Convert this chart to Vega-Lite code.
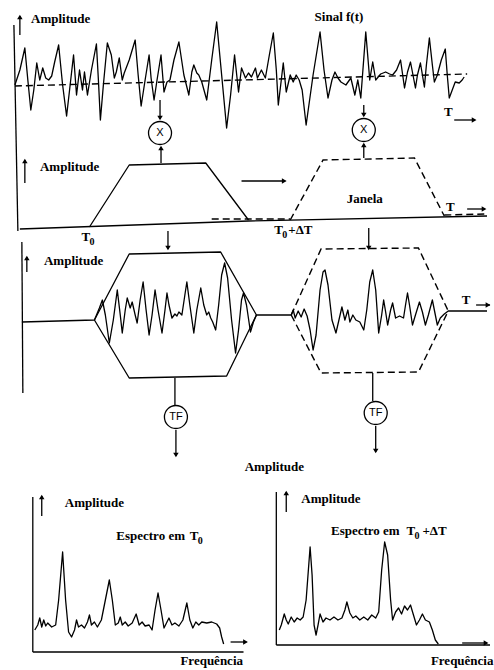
{
 "$schema": "https://vega.github.io/schema/vega-lite/v6.json",
 "width": 494, "height": 670,
 "autosize": {"type": "fit", "contains": "padding"},
 "padding": 0,
 "background": "white",
 "view": {"stroke": null},
 "datasets": {
  "solidas": [
   {"c":"sinal","x":15,"y":85},{"c":"sinal","x":20,"y":70},{"c":"sinal","x":25,"y":48},{"c":"sinal","x":28,"y":80},{"c":"sinal","x":31,"y":110},{"c":"sinal","x":34,"y":90},{"c":"sinal","x":37,"y":63},{"c":"sinal","x":40,"y":80},{"c":"sinal","x":43,"y":68},{"c":"sinal","x":46,"y":78},{"c":"sinal","x":49,"y":80},{"c":"sinal","x":52,"y":76},{"c":"sinal","x":55,"y":62},{"c":"sinal","x":59,"y":45},{"c":"sinal","x":63,"y":85},{"c":"sinal","x":67,"y":116},{"c":"sinal","x":70,"y":90},{"c":"sinal","x":74,"y":55},{"c":"sinal","x":77,"y":95},{"c":"sinal","x":80,"y":70},{"c":"sinal","x":83,"y":90},{"c":"sinal","x":85,"y":72},{"c":"sinal","x":88,"y":95},{"c":"sinal","x":92,"y":70},{"c":"sinal","x":97,"y":44},{"c":"sinal","x":99,"y":80},{"c":"sinal","x":101,"y":120},{"c":"sinal","x":104,"y":85},{"c":"sinal","x":108,"y":43},{"c":"sinal","x":112,"y":55},{"c":"sinal","x":115,"y":78},{"c":"sinal","x":117,"y":72},{"c":"sinal","x":120,"y":58},{"c":"sinal","x":123,"y":80},{"c":"sinal","x":125,"y":73},{"c":"sinal","x":130,"y":60},{"c":"sinal","x":136,"y":40},{"c":"sinal","x":139,"y":75},{"c":"sinal","x":142,"y":106},{"c":"sinal","x":146,"y":80},{"c":"sinal","x":150,"y":55},{"c":"sinal","x":152,"y":78},{"c":"sinal","x":155,"y":100},{"c":"sinal","x":158,"y":80},{"c":"sinal","x":162,"y":55},{"c":"sinal","x":165,"y":92},{"c":"sinal","x":168,"y":82},{"c":"sinal","x":171,"y":80},{"c":"sinal","x":175,"y":60},{"c":"sinal","x":180,"y":42},{"c":"sinal","x":185,"y":75},{"c":"sinal","x":190,"y":95},{"c":"sinal","x":193,"y":72},{"c":"sinal","x":195,"y":65},{"c":"sinal","x":198,"y":73},{"c":"sinal","x":200,"y":75},{"c":"sinal","x":203,"y":82},{"c":"sinal","x":208,"y":100},{"c":"sinal","x":213,"y":60},{"c":"sinal","x":218,"y":22},{"c":"sinal","x":223,"y":75},{"c":"sinal","x":228,"y":128},{"c":"sinal","x":232,"y":95},{"c":"sinal","x":236,"y":55},{"c":"sinal","x":240,"y":92},{"c":"sinal","x":243,"y":68},{"c":"sinal","x":247,"y":78},{"c":"sinal","x":250,"y":73},{"c":"sinal","x":253,"y":77},{"c":"sinal","x":257,"y":68},{"c":"sinal","x":259,"y":78},{"c":"sinal","x":263,"y":70},{"c":"sinal","x":267,"y":78},{"c":"sinal","x":271,"y":55},{"c":"sinal","x":275,"y":33},{"c":"sinal","x":278,"y":70},{"c":"sinal","x":280,"y":105},{"c":"sinal","x":283,"y":80},{"c":"sinal","x":285,"y":63},{"c":"sinal","x":288,"y":92},{"c":"sinal","x":292,"y":75},{"c":"sinal","x":295,"y":82},{"c":"sinal","x":298,"y":75},{"c":"sinal","x":301,"y":80},{"c":"sinal","x":304,"y":90},{"c":"sinal","x":308,"y":125},{"c":"sinal","x":315,"y":75},{"c":"sinal","x":322,"y":32},{"c":"sinal","x":326,"y":70},{"c":"sinal","x":330,"y":98},{"c":"sinal","x":334,"y":80},{"c":"sinal","x":337,"y":72},{"c":"sinal","x":340,"y":78},{"c":"sinal","x":343,"y":82},{"c":"sinal","x":348,"y":85},{"c":"sinal","x":353,"y":78},{"c":"sinal","x":357,"y":95},{"c":"sinal","x":360,"y":80},{"c":"sinal","x":363,"y":98},{"c":"sinal","x":368,"y":32},{"c":"sinal","x":372,"y":80},{"c":"sinal","x":375,"y":62},{"c":"sinal","x":378,"y":80},{"c":"sinal","x":383,"y":74},{"c":"sinal","x":388,"y":72},{"c":"sinal","x":392,"y":74},{"c":"sinal","x":395,"y":75},{"c":"sinal","x":399,"y":70},{"c":"sinal","x":403,"y":60},{"c":"sinal","x":407,"y":88},{"c":"sinal","x":410,"y":72},{"c":"sinal","x":413,"y":62},{"c":"sinal","x":418,"y":88},{"c":"sinal","x":420,"y":75},{"c":"sinal","x":423,"y":63},{"c":"sinal","x":427,"y":87},{"c":"sinal","x":429,"y":65},{"c":"sinal","x":432,"y":38},{"c":"sinal","x":435,"y":65},{"c":"sinal","x":437,"y":82},{"c":"sinal","x":440,"y":75},{"c":"sinal","x":444,"y":60},{"c":"sinal","x":448,"y":49},{"c":"sinal","x":450,"y":75},{"c":"sinal","x":452,"y":98},{"c":"sinal","x":455,"y":90},{"c":"sinal","x":458,"y":82},{"c":"sinal","x":462,"y":83},{"c":"sinal","x":465,"y":80},{"c":"sinal","x":467,"y":77},
   {"c":"janela1","x":90,"y":227},{"c":"janela1","x":130,"y":165},{"c":"janela1","x":207,"y":163},{"c":"janela1","x":250,"y":220},
   {"c":"janela_base","x":20,"y":229},{"c":"janela_base","x":250,"y":221},{"c":"janela_base","x":490,"y":216},
   {"c":"hex1_sup","x":95,"y":320},{"c":"hex1_sup","x":130,"y":254},{"c":"hex1_sup","x":222,"y":252},{"c":"hex1_sup","x":258,"y":315},
   {"c":"hex1_inf","x":95,"y":320},{"c":"hex1_inf","x":130,"y":378},{"c":"hex1_inf","x":228,"y":376},{"c":"hex1_inf","x":258,"y":315},
   {"c":"produto","x":22,"y":322},{"c":"produto","x":95,"y":320},{"c":"produto","x":100,"y":308},{"c":"produto","x":103,"y":300},{"c":"produto","x":106,"y":315},{"c":"produto","x":110,"y":343},{"c":"produto","x":114,"y":320},{"c":"produto","x":118,"y":290},{"c":"produto","x":121,"y":315},{"c":"produto","x":123,"y":333},{"c":"produto","x":126,"y":310},{"c":"produto","x":128,"y":298},{"c":"produto","x":131,"y":308},{"c":"produto","x":133,"y":302},{"c":"produto","x":136,"y":315},{"c":"produto","x":138,"y":323},{"c":"produto","x":141,"y":300},{"c":"produto","x":144,"y":282},{"c":"produto","x":147,"y":310},{"c":"produto","x":150,"y":335},{"c":"produto","x":153,"y":315},{"c":"produto","x":156,"y":290},{"c":"produto","x":159,"y":310},{"c":"produto","x":163,"y":333},{"c":"produto","x":166,"y":310},{"c":"produto","x":168,"y":293},{"c":"produto","x":170,"y":305},{"c":"produto","x":173,"y":318},{"c":"produto","x":176,"y":314},{"c":"produto","x":178,"y":316},{"c":"produto","x":180,"y":312},{"c":"produto","x":183,"y":315},{"c":"produto","x":186,"y":295},{"c":"produto","x":188,"y":282},{"c":"produto","x":191,"y":305},{"c":"produto","x":195,"y":333},{"c":"produto","x":198,"y":310},{"c":"produto","x":202,"y":288},{"c":"produto","x":205,"y":305},{"c":"produto","x":208,"y":315},{"c":"produto","x":210,"y":312},{"c":"produto","x":212,"y":318},{"c":"produto","x":214,"y":322},{"c":"produto","x":217,"y":330},{"c":"produto","x":220,"y":305},{"c":"produto","x":223,"y":275},{"c":"produto","x":226,"y":263},{"c":"produto","x":229,"y":278},{"c":"produto","x":233,"y":320},{"c":"produto","x":237,"y":353},{"c":"produto","x":240,"y":330},{"c":"produto","x":243,"y":300},{"c":"produto","x":245,"y":293},{"c":"produto","x":248,"y":305},{"c":"produto","x":252,"y":332},{"c":"produto","x":255,"y":322},{"c":"produto","x":258,"y":315},{"c":"produto","x":293,"y":315},{"c":"produto","x":295,"y":310},{"c":"produto","x":297,"y":318},{"c":"produto","x":300,"y":311},{"c":"produto","x":303,"y":317},{"c":"produto","x":306,"y":309},{"c":"produto","x":309,"y":316},{"c":"produto","x":312,"y":330},{"c":"produto","x":315,"y":350},{"c":"produto","x":318,"y":335},{"c":"produto","x":322,"y":290},{"c":"produto","x":325,"y":272},{"c":"produto","x":327,"y":270},{"c":"produto","x":330,"y":285},{"c":"produto","x":334,"y":320},{"c":"produto","x":338,"y":333},{"c":"produto","x":341,"y":320},{"c":"produto","x":344,"y":307},{"c":"produto","x":347,"y":320},{"c":"produto","x":350,"y":310},{"c":"produto","x":352,"y":322},{"c":"produto","x":355,"y":315},{"c":"produto","x":358,"y":320},{"c":"produto","x":362,"y":322},{"c":"produto","x":366,"y":330},{"c":"produto","x":369,"y":310},{"c":"produto","x":372,"y":282},{"c":"produto","x":375,"y":270},{"c":"produto","x":378,"y":290},{"c":"produto","x":381,"y":333},{"c":"produto","x":384,"y":315},{"c":"produto","x":386,"y":300},{"c":"produto","x":388,"y":312},{"c":"produto","x":390,"y":325},{"c":"produto","x":393,"y":310},{"c":"produto","x":395,"y":303},{"c":"produto","x":398,"y":318},{"c":"produto","x":402,"y":316},{"c":"produto","x":406,"y":318},{"c":"produto","x":408,"y":305},{"c":"produto","x":410,"y":293},{"c":"produto","x":412,"y":305},{"c":"produto","x":415,"y":325},{"c":"produto","x":418,"y":315},{"c":"produto","x":422,"y":302},{"c":"produto","x":425,"y":312},{"c":"produto","x":428,"y":325},{"c":"produto","x":431,"y":315},{"c":"produto","x":435,"y":300},{"c":"produto","x":438,"y":315},{"c":"produto","x":440,"y":325},{"c":"produto","x":443,"y":318},{"c":"produto","x":447,"y":314},{"c":"produto","x":451,"y":311},{"c":"produto","x":490,"y":311},
   {"c":"esp1","x":35,"y":630},{"c":"esp1","x":38,"y":625},{"c":"esp1","x":40,"y":618},{"c":"esp1","x":42,"y":627},{"c":"esp1","x":44,"y":620},{"c":"esp1","x":46,"y":626},{"c":"esp1","x":48,"y":623},{"c":"esp1","x":52,"y":627},{"c":"esp1","x":56,"y":625},{"c":"esp1","x":59,"y":600},{"c":"esp1","x":63,"y":552},{"c":"esp1","x":66,"y":600},{"c":"esp1","x":69,"y":632},{"c":"esp1","x":72,"y":637},{"c":"esp1","x":75,"y":630},{"c":"esp1","x":77,"y":620},{"c":"esp1","x":79,"y":627},{"c":"esp1","x":82,"y":625},{"c":"esp1","x":85,"y":628},{"c":"esp1","x":88,"y":622},{"c":"esp1","x":90,"y":615},{"c":"esp1","x":92,"y":625},{"c":"esp1","x":95,"y":622},{"c":"esp1","x":98,"y":627},{"c":"esp1","x":102,"y":620},{"c":"esp1","x":106,"y":600},{"c":"esp1","x":110,"y":580},{"c":"esp1","x":113,"y":600},{"c":"esp1","x":116,"y":625},{"c":"esp1","x":119,"y":623},{"c":"esp1","x":121,"y":617},{"c":"esp1","x":123,"y":625},{"c":"esp1","x":126,"y":622},{"c":"esp1","x":129,"y":626},{"c":"esp1","x":133,"y":623},{"c":"esp1","x":137,"y":614},{"c":"esp1","x":140,"y":625},{"c":"esp1","x":143,"y":622},{"c":"esp1","x":146,"y":626},{"c":"esp1","x":150,"y":625},{"c":"esp1","x":153,"y":630},{"c":"esp1","x":156,"y":610},{"c":"esp1","x":159,"y":593},{"c":"esp1","x":162,"y":610},{"c":"esp1","x":165,"y":628},{"c":"esp1","x":168,"y":622},{"c":"esp1","x":170,"y":618},{"c":"esp1","x":173,"y":625},{"c":"esp1","x":176,"y":623},{"c":"esp1","x":180,"y":626},{"c":"esp1","x":184,"y":620},{"c":"esp1","x":188,"y":603},{"c":"esp1","x":191,"y":620},{"c":"esp1","x":194,"y":628},{"c":"esp1","x":197,"y":622},{"c":"esp1","x":200,"y":625},{"c":"esp1","x":203,"y":622},{"c":"esp1","x":208,"y":623},{"c":"esp1","x":213,"y":622},{"c":"esp1","x":218,"y":624},{"c":"esp1","x":221,"y":628},{"c":"esp1","x":223,"y":637},{"c":"esp1","x":225,"y":644},
   {"c":"esp2","x":281,"y":630},{"c":"esp2","x":283,"y":625},{"c":"esp2","x":286,"y":614},{"c":"esp2","x":288,"y":620},{"c":"esp2","x":290,"y":624},{"c":"esp2","x":293,"y":617},{"c":"esp2","x":296,"y":622},{"c":"esp2","x":299,"y":618},{"c":"esp2","x":302,"y":620},{"c":"esp2","x":305,"y":617},{"c":"esp2","x":308,"y":600},{"c":"esp2","x":312,"y":547},{"c":"esp2","x":314,"y":575},{"c":"esp2","x":316,"y":625},{"c":"esp2","x":318,"y":635},{"c":"esp2","x":320,"y":625},{"c":"esp2","x":322,"y":614},{"c":"esp2","x":325,"y":622},{"c":"esp2","x":328,"y":618},{"c":"esp2","x":332,"y":620},{"c":"esp2","x":336,"y":617},{"c":"esp2","x":340,"y":620},{"c":"esp2","x":344,"y":618},{"c":"esp2","x":347,"y":610},{"c":"esp2","x":349,"y":602},{"c":"esp2","x":352,"y":613},{"c":"esp2","x":355,"y":618},{"c":"esp2","x":358,"y":616},{"c":"esp2","x":362,"y":620},{"c":"esp2","x":366,"y":617},{"c":"esp2","x":370,"y":620},{"c":"esp2","x":374,"y":615},{"c":"esp2","x":378,"y":618},{"c":"esp2","x":381,"y":612},{"c":"esp2","x":384,"y":570},{"c":"esp2","x":387,"y":542},{"c":"esp2","x":390,"y":555},{"c":"esp2","x":393,"y":600},{"c":"esp2","x":395,"y":620},{"c":"esp2","x":398,"y":612},{"c":"esp2","x":401,"y":608},{"c":"esp2","x":404,"y":614},{"c":"esp2","x":407,"y":606},{"c":"esp2","x":410,"y":610},{"c":"esp2","x":413,"y":605},{"c":"esp2","x":416,"y":615},{"c":"esp2","x":419,"y":625},{"c":"esp2","x":422,"y":620},{"c":"esp2","x":425,"y":614},{"c":"esp2","x":428,"y":620},{"c":"esp2","x":432,"y":622},{"c":"esp2","x":435,"y":630},{"c":"esp2","x":438,"y":640},{"c":"esp2","x":441,"y":644}
  ],
  "tracejadas": [
   {"c":"base_sinal","x":15,"y":86},{"c":"base_sinal","x":470,"y":74},
   {"c":"janela2","x":292,"y":220},{"c":"janela2","x":325,"y":160},{"c":"janela2","x":417,"y":158},{"c":"janela2","x":447,"y":216},
   {"c":"rastro1","x":213,"y":219},{"c":"rastro1","x":292,"y":219},
   {"c":"rastro2","x":447,"y":215},{"c":"rastro2","x":488,"y":214},
   {"c":"hex2_sup","x":293,"y":315},{"c":"hex2_sup","x":323,"y":249},{"c":"hex2_sup","x":421,"y":248},{"c":"hex2_sup","x":451,"y":311},
   {"c":"hex2_inf","x":293,"y":315},{"c":"hex2_inf","x":323,"y":373},{"c":"hex2_inf","x":421,"y":372},{"c":"hex2_inf","x":451,"y":311}
  ],
  "segmentos": [
   {"x":14,"y":25,"x2":18,"y2":231},
   {"x":20,"y":35,"x2":20,"y2":16},
   {"x":161,"y":100,"x2":161,"y2":119},
   {"x":366,"y":105,"x2":366,"y2":116},
   {"x":457,"y":120,"x2":478,"y2":120},
   {"x":162,"y":163,"x2":162,"y2":147},
   {"x":366,"y":158,"x2":366,"y2":144},
   {"x":25,"y":183,"x2":25,"y2":160},
   {"x":243,"y":181,"x2":287,"y2":181},
   {"x":470,"y":209,"x2":488,"y2":209},
   {"x":169,"y":231,"x2":169,"y2":249},
   {"x":371,"y":228,"x2":371,"y2":249},
   {"x":22,"y":242,"x2":23,"y2":393},
   {"x":27,"y":272,"x2":27,"y2":257},
   {"x":479,"y":305,"x2":493,"y2":305},
   {"x":176,"y":378,"x2":176,"y2":405},
   {"x":375,"y":373,"x2":375,"y2":401},
   {"x":177,"y":430,"x2":177,"y2":456},
   {"x":378,"y":426,"x2":378,"y2":452},
   {"x":33,"y":497,"x2":33,"y2":652},
   {"x":33,"y":652,"x2":245,"y2":652},
   {"x":42,"y":516,"x2":42,"y2":496},
   {"x":232,"y":642,"x2":248,"y2":642},
   {"x":278,"y":492,"x2":278,"y2":645},
   {"x":278,"y":645,"x2":493,"y2":645},
   {"x":288,"y":512,"x2":288,"y2":492},
   {"x":465,"y":643,"x2":490,"y2":643}
  ],
  "pontas": [
   {"x":20,"y":17,"dir":"cima"},
   {"x":161,"y":118,"dir":"baixo"},
   {"x":366,"y":115,"dir":"baixo"},
   {"x":477,"y":120,"dir":"direita"},
   {"x":162,"y":148,"dir":"cima"},
   {"x":366,"y":145,"dir":"cima"},
   {"x":25,"y":161,"dir":"cima"},
   {"x":286,"y":181,"dir":"direita"},
   {"x":487,"y":209,"dir":"direita"},
   {"x":169,"y":248,"dir":"baixo"},
   {"x":371,"y":248,"dir":"baixo"},
   {"x":27,"y":258,"dir":"cima"},
   {"x":491,"y":305,"dir":"direita"},
   {"x":177,"y":455,"dir":"baixo"},
   {"x":378,"y":451,"dir":"baixo"},
   {"x":42,"y":497,"dir":"cima"},
   {"x":247,"y":642,"dir":"direita"},
   {"x":288,"y":493,"dir":"cima"},
   {"x":489,"y":643,"dir":"direita"}
  ],
  "circulos": [
   {"x":161,"y":133,"rotulo":"X"},
   {"x":366,"y":130,"rotulo":"X"},
   {"x":177,"y":417,"rotulo":"TF"},
   {"x":378,"y":413,"rotulo":"TF"}
  ],
  "textos": [
   {"x":61,"y":19,"rotulo":"Amplitude"},
   {"x":341,"y":17,"rotulo":"Sinal f(t)"},
   {"x":451,"y":112,"rotulo":"T"},
   {"x":70,"y":167,"rotulo":"Amplitude"},
   {"x":367,"y":199,"rotulo":"Janela"},
   {"x":453,"y":207,"rotulo":"T"},
   {"x":74,"y":261,"rotulo":"Amplitude"},
   {"x":469,"y":300,"rotulo":"T"},
   {"x":276,"y":467,"rotulo":"Amplitude"},
   {"x":95,"y":503,"rotulo":"Amplitude"},
   {"x":213,"y":661,"rotulo":"Frequência"},
   {"x":333,"y":499,"rotulo":"Amplitude"},
   {"x":465,"y":661,"rotulo":"Frequência"}
  ],
  "pecas": [
   {"x":82,"y":237,"rotulo":"T"},
   {"x":276,"y":230,"rotulo":"T"},
   {"x":290,"y":230,"rotulo":"+ΔT"},
   {"x":117,"y":536,"rotulo":"Espectro em"},
   {"x":191,"y":536,"rotulo":"T"},
   {"x":333,"y":531,"rotulo":"Espectro em"},
   {"x":409,"y":531,"rotulo":"T"},
   {"x":425,"y":531,"rotulo":"+ΔT"}
  ],
  "subscritos": [
   {"x":90,"y":242,"rotulo":"0"},
   {"x":284,"y":235,"rotulo":"0"},
   {"x":199,"y":541,"rotulo":"0"},
   {"x":417,"y":536,"rotulo":"0"}
  ]
 },
 "encoding": {
  "x": {"field": "x", "type": "quantitative", "scale": {"domain": [0, 494], "nice": false, "zero": false}, "axis": null},
  "y": {"field": "y", "type": "quantitative", "scale": {"domain": [0, 670], "nice": false, "zero": false, "reverse": true}, "axis": null}
 },
 "layer": [
  {"data": {"name": "solidas"}, "mark": {"type": "line", "color": "black", "strokeWidth": 1.3, "strokeJoin": "round"}, "encoding": {"detail": {"field": "c", "type": "nominal"}}},
  {"data": {"name": "tracejadas"}, "mark": {"type": "line", "color": "black", "strokeWidth": 1.4, "strokeDash": [7, 4]}, "encoding": {"detail": {"field": "c", "type": "nominal"}}},
  {"data": {"name": "segmentos"}, "mark": {"type": "rule", "color": "black", "strokeWidth": 1.3}, "encoding": {"x2": {"field": "x2"}, "y2": {"field": "y2"}}},
  {"data": {"name": "pontas"}, "mark": {"type": "point", "filled": true, "color": "black", "size": 30, "opacity": 1}, "encoding": {"shape": {"field": "dir", "type": "nominal", "scale": {"domain": ["cima", "baixo", "direita"], "range": ["triangle-up", "triangle-down", "triangle-right"]}, "legend": null}}},
  {"data": {"name": "circulos"}, "mark": {"type": "point", "shape": "circle", "size": 529, "fill": "white", "stroke": "black", "strokeWidth": 1.3, "opacity": 1, "fillOpacity": 1}},
  {"data": {"name": "circulos"}, "mark": {"type": "text", "font": "Liberation Sans", "fontSize": 11, "color": "black", "align": "center", "baseline": "middle"}, "encoding": {"text": {"field": "rotulo"}}},
  {"data": {"name": "textos"}, "mark": {"type": "text", "font": "Liberation Serif", "fontWeight": "bold", "fontSize": 13, "color": "black", "align": "center", "baseline": "middle"}, "encoding": {"text": {"field": "rotulo"}}},
  {"data": {"name": "pecas"}, "mark": {"type": "text", "font": "Liberation Serif", "fontWeight": "bold", "fontSize": 13, "color": "black", "align": "left", "baseline": "middle"}, "encoding": {"text": {"field": "rotulo"}}},
  {"data": {"name": "subscritos"}, "mark": {"type": "text", "font": "Liberation Serif", "fontWeight": "bold", "fontSize": 10, "color": "black", "align": "left", "baseline": "middle"}, "encoding": {"text": {"field": "rotulo"}}}
 ]
}
